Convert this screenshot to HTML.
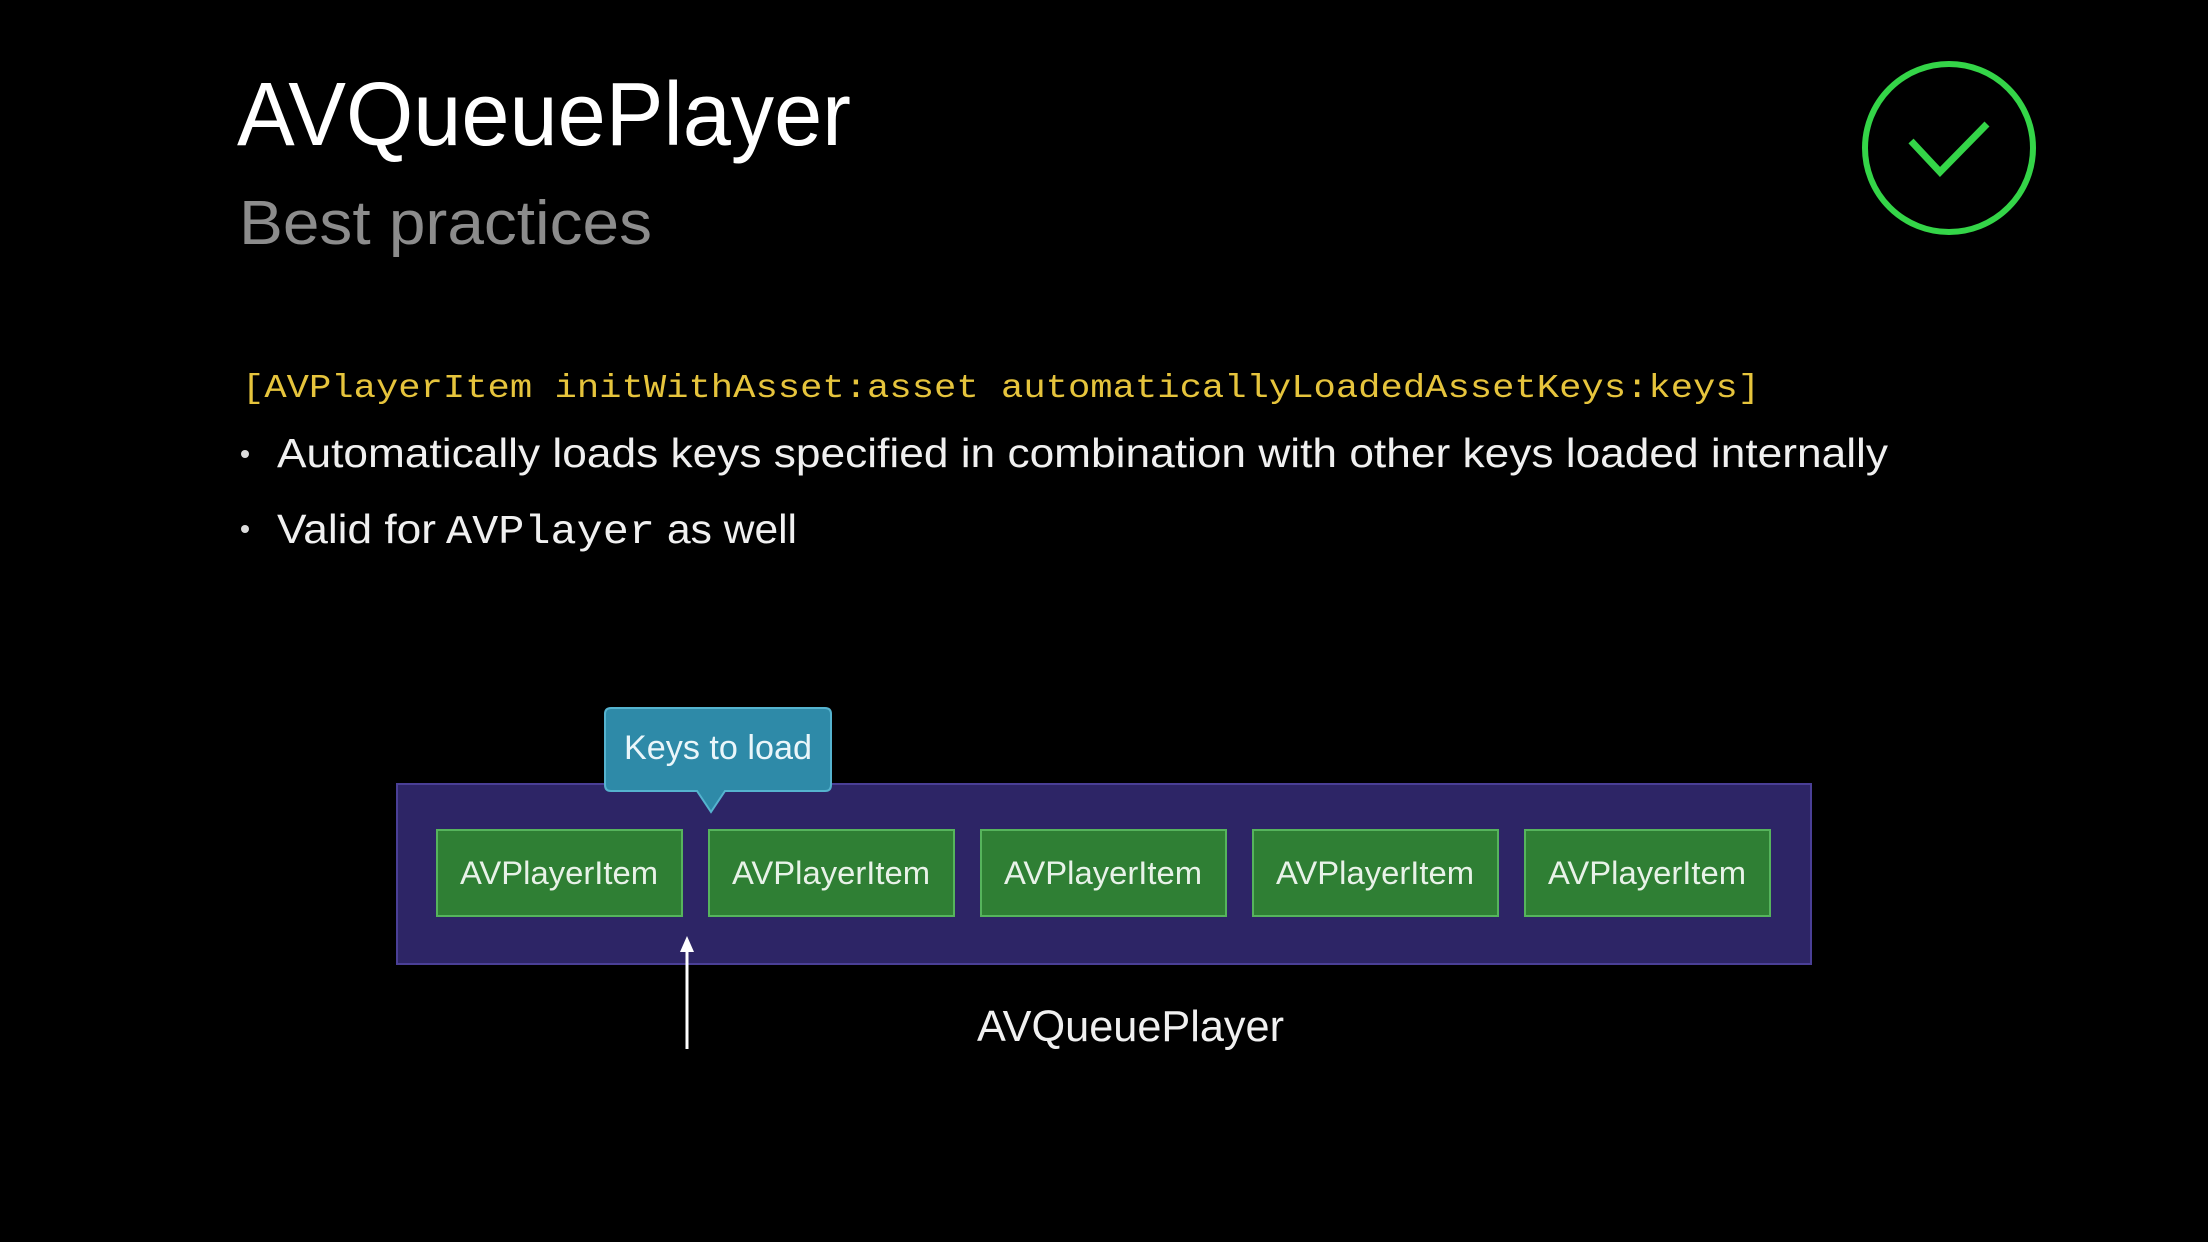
<!DOCTYPE html>
<html><head><meta charset="utf-8"><style>html,body{margin:0;padding:0;background:#000;}svg{display:block}</style></head>
<body>
<svg width="2208" height="1242" viewBox="0 0 2208 1242" xmlns="http://www.w3.org/2000/svg">
<rect width="2208" height="1242" fill="#000"/>
<g font-family="Liberation Sans, sans-serif">
<text x="237" y="145" font-size="90" fill="#fff" textLength="614" lengthAdjust="spacingAndGlyphs">AVQueuePlayer</text>
<text x="239" y="244" font-size="62" fill="#8c8c8c" textLength="413" lengthAdjust="spacingAndGlyphs">Best practices</text>
<text x="242" y="397" font-family="Liberation Mono, monospace" font-size="33" fill="#e6c43c" textLength="1518" lengthAdjust="spacingAndGlyphs">[AVPlayerItem initWithAsset:asset automaticallyLoadedAssetKeys:keys]</text>
<circle cx="245" cy="454" r="4" fill="#ddd"/>
<text x="277" y="467" font-size="41" fill="#f0f0f0" textLength="1611" lengthAdjust="spacingAndGlyphs">Automatically loads keys specified in combination with other keys loaded internally</text>
<circle cx="245" cy="529" r="4" fill="#ddd"/>
<text x="277" y="543" font-size="41" fill="#f0f0f0" textLength="159" lengthAdjust="spacingAndGlyphs">Valid for</text>
<text x="446" y="543" font-family="Liberation Mono, monospace" font-size="41" fill="#f0f0f0" textLength="209" lengthAdjust="spacingAndGlyphs">AVPlayer</text>
<text x="667" y="543" font-size="41" fill="#f0f0f0" textLength="130" lengthAdjust="spacingAndGlyphs">as well</text>
</g>
<circle cx="1949" cy="148" r="84" fill="none" stroke="#34d548" stroke-width="6"/>
<polyline points="1911,141 1940,172 1987,124" fill="none" stroke="#34d548" stroke-width="7"/>
<rect x="397" y="784" width="1414" height="180" fill="#2d2566" stroke="#4a3f96" stroke-width="2"/>
<g font-family="Liberation Sans, sans-serif" font-size="32" fill="#e8f2e8" text-anchor="middle">
<rect x="437" y="830" width="245" height="86" fill="#2f7f34" stroke="#56b45c" stroke-width="2"/>
<text x="559" y="884" textLength="198" lengthAdjust="spacingAndGlyphs">AVPlayerItem</text>
<rect x="709" y="830" width="245" height="86" fill="#2f7f34" stroke="#56b45c" stroke-width="2"/>
<text x="831" y="884" textLength="198" lengthAdjust="spacingAndGlyphs">AVPlayerItem</text>
<rect x="981" y="830" width="245" height="86" fill="#2f7f34" stroke="#56b45c" stroke-width="2"/>
<text x="1103" y="884" textLength="198" lengthAdjust="spacingAndGlyphs">AVPlayerItem</text>
<rect x="1253" y="830" width="245" height="86" fill="#2f7f34" stroke="#56b45c" stroke-width="2"/>
<text x="1375" y="884" textLength="198" lengthAdjust="spacingAndGlyphs">AVPlayerItem</text>
<rect x="1525" y="830" width="245" height="86" fill="#2f7f34" stroke="#56b45c" stroke-width="2"/>
<text x="1647" y="884" textLength="198" lengthAdjust="spacingAndGlyphs">AVPlayerItem</text>
</g>
<path d="M611,708 H825 Q831,708 831,714 V785 Q831,791 825,791 H725 L711,812 L697,791 H611 Q605,791 605,785 V714 Q605,708 611,708 Z" fill="#2e8aa8" stroke="#55b3cf" stroke-width="2"/>
<text x="718" y="759" font-family="Liberation Sans, sans-serif" font-size="34" fill="#eaf6fa" text-anchor="middle" textLength="188" lengthAdjust="spacingAndGlyphs">Keys to load</text>
<line x1="687" y1="1049" x2="687" y2="948" stroke="#fff" stroke-width="3"/>
<polygon points="687,936 680,952 694,952" fill="#fff"/>
<text x="977" y="1041" font-family="Liberation Sans, sans-serif" font-size="44" fill="#f0f0f0" textLength="307" lengthAdjust="spacingAndGlyphs">AVQueuePlayer</text>
</svg>
</body></html>
